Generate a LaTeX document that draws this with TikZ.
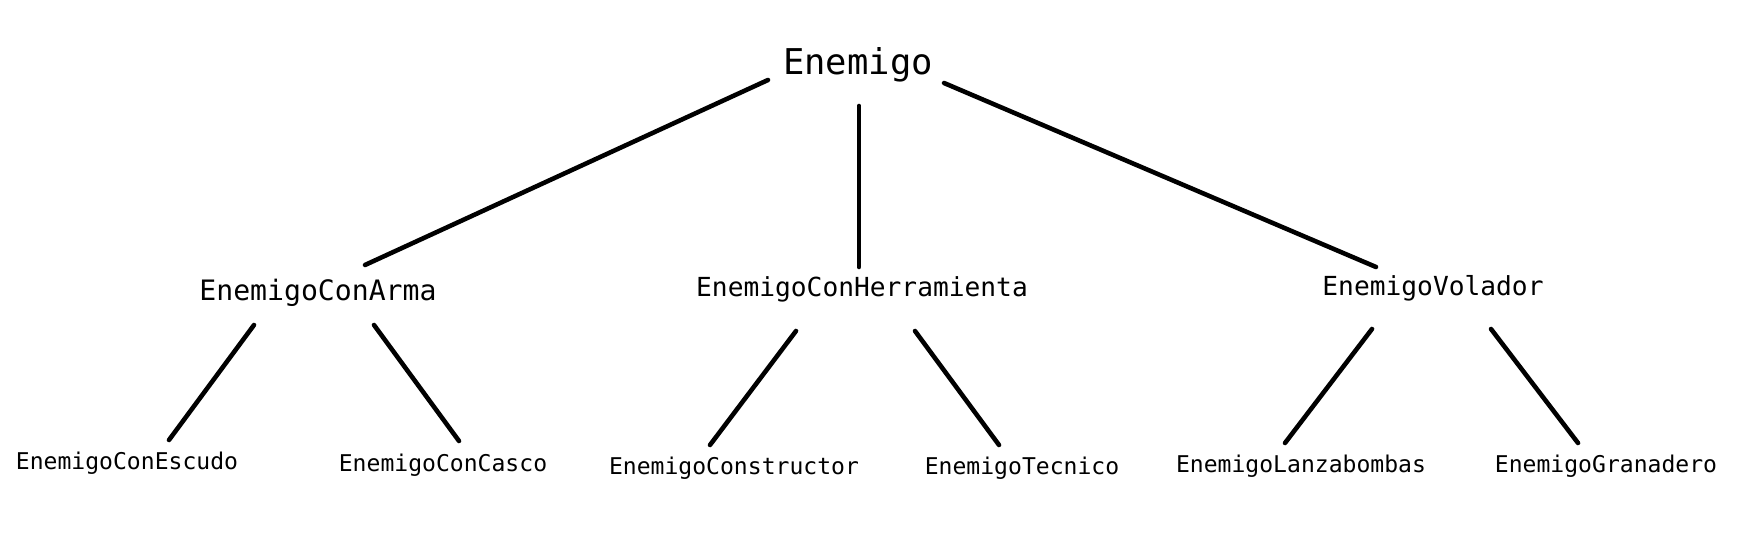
\documentclass[tikz,border=0pt]{standalone}
\usepackage{fontspec}
\setmonofont{DejaVu Sans Mono}
\usetikzlibrary{positioning}

\begin{document}
\begin{tikzpicture}[
    x=0.01cm, y=-0.01cm,
    cls/.style={anchor=base, inner sep=0pt, font=\ttfamily\fontsize{#1}{#1}\selectfont},
    link/.style={line width=1.3pt, line cap=round, color=black}
]
\useasboundingbox (0,0) rectangle (1745,537);

% root
\node[cls=10.1pt] (enemigo) at (858,75) {Enemigo};

% second level
\node[cls=8pt] (conArma) at (318,301) {EnemigoConArma};
\node[cls=7.46pt] (conHerr) at (862,297) {EnemigoConHerramienta};
\node[cls=7.46pt] (volador) at (1433,296) {EnemigoVolador};

% leaves
\node[cls=6.56pt] (escudo) at (127,470) {EnemigoConEscudo};
\node[cls=6.56pt] (casco) at (443,472) {EnemigoConCasco};
\node[cls=6.56pt] (constructor) at (734,475) {EnemigoConstructor};
\node[cls=6.56pt] (tecnico) at (1022,475) {EnemigoTecnico};
\node[cls=6.56pt] (lanza) at (1301,473) {EnemigoLanzabombas};
\node[cls=6.56pt] (granadero) at (1606,473) {EnemigoGranadero};

% line ends
\coordinate (enemigo-l) at (768,80);
\coordinate (enemigo-c) at (859,106);
\coordinate (enemigo-r) at (944,83);
\coordinate (conArma-in) at (365,265);
\coordinate (conHerr-in) at (859,267);
\coordinate (volador-in) at (1376,267);
\coordinate (conArma-l) at (254,325);
\coordinate (conArma-r) at (374,325);
\coordinate (conHerr-l) at (796,331);
\coordinate (conHerr-r) at (915,331);
\coordinate (volador-l) at (1372,329);
\coordinate (volador-r) at (1491,329);
\coordinate (escudo-in) at (169,440);
\coordinate (casco-in) at (459,441);
\coordinate (constructor-in) at (710,445);
\coordinate (tecnico-in) at (999,445);
\coordinate (lanza-in) at (1285,443);
\coordinate (granadero-in) at (1578,443);

\draw[link] (enemigo-l) -- (conArma-in);
\draw[link] (enemigo-c) -- (conHerr-in);
\draw[link] (enemigo-r) -- (volador-in);
\draw[link] (conArma-l) -- (escudo-in);
\draw[link] (conArma-r) -- (casco-in);
\draw[link] (conHerr-l) -- (constructor-in);
\draw[link] (conHerr-r) -- (tecnico-in);
\draw[link] (volador-l) -- (lanza-in);
\draw[link] (volador-r) -- (granadero-in);

\end{tikzpicture}
\end{document}
